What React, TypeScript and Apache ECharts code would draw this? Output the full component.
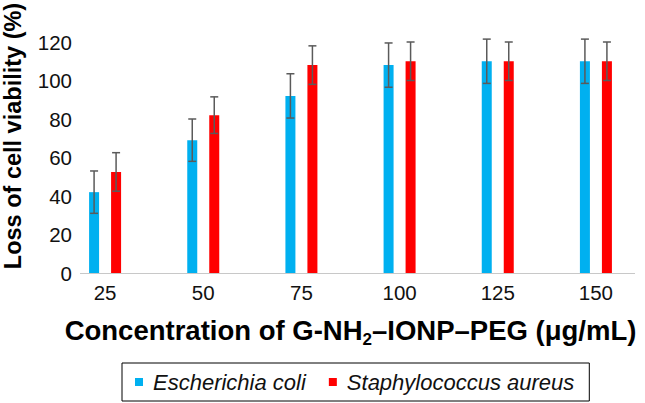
import React, { useEffect, useRef } from 'react';
import * as echarts from 'echarts';

const categories = ['25', '50', '75', '100', '125', '150'];
const ecoli = [42, 69, 92, 108, 110, 110];
const ecoliErr = [11, 11, 11.5, 11.5, 11.5, 11.5];
const saureus = [52.5, 82, 108, 110, 110, 110];
const saureusErr = [10, 9.5, 10, 10, 10, 10];
const seriesNames = ['Escherichia coli', 'Staphylococcus aureus'];
const yMin = 0;
const yMax = 120;
const yInterval = 20;

const FONT = 'Liberation Sans, Arial, Helvetica, sans-serif';

export default function App() {
  const ref = useRef<HTMLDivElement>(null);
  useEffect(() => {
    const chart = echarts.init(ref.current as HTMLDivElement, null, { renderer: 'svg' });
    const errSeries = (vals: number[], errs: number[], offset: number) => ({
      type: 'custom',
      renderItem: (_p: any, api: any) => {
        const top = api.coord([api.value(0), api.value(2)]);
        const bot = api.coord([api.value(0), api.value(1)]);
        const x = top[0] + offset;
        const hw = 4;
        const style = { stroke: '#5a5a5a', lineWidth: 1.5, fill: null };
        return {
          type: 'group',
          children: [
            { type: 'line', shape: { x1: x, y1: top[1], x2: x, y2: bot[1] }, style },
            { type: 'line', shape: { x1: x - hw, y1: top[1], x2: x + hw, y2: top[1] }, style },
            { type: 'line', shape: { x1: x - hw, y1: bot[1], x2: x + hw, y2: bot[1] }, style },
          ],
        };
      },
      data: vals.map((v, i) => [i, v - errs[i], v + errs[i]]),
      encode: { x: 0, y: [1, 2] },
      z: 10,
      silent: true,
    });
    chart.setOption({
      animation: false,
      grid: { left: 56, top: 42, width: 605, height: 231, containLabel: false },
      legend: {
        data: seriesNames,
        left: 122,
        top: 363,
        icon: 'rect',
        itemWidth: 8,
        itemHeight: 8,
        itemGap: 23,
        borderColor: '#000',
        borderWidth: 1,
        padding: [8, 15, 8, 13],
        textStyle: {
          fontFamily: FONT,
          fontSize: 22,
          fontStyle: 'italic',
          color: '#111',
          padding: [0, 0, 0, 5],
          lineHeight: 22,
        },
      },
      xAxis: {
        type: 'category',
        data: categories,
        axisLine: { show: false },
        axisTick: { show: false },
        axisLabel: { fontFamily: FONT, fontSize: 20.5, color: '#111', margin: 9 },
        name: '{a|Concentration of G-NH}{s|2}{a|–IONP–PEG (μg/mL)}',
        nameLocation: 'middle',
        nameGap: 40,
        nameTextStyle: {
          rich: {
            a: { fontFamily: FONT, fontSize: 27.5, fontWeight: 'bold', color: '#000' },
            s: { fontFamily: FONT, fontSize: 17, fontWeight: 'bold', color: '#000', padding: [18, 0, 0, 0] },
          },
        },
      },
      yAxis: {
        type: 'value',
        min: yMin,
        max: yMax,
        interval: yInterval,
        offset: -24,
        axisLine: { show: false },
        axisTick: { show: false },
        splitLine: { show: false },
        axisLabel: { fontFamily: FONT, fontSize: 20.5, color: '#111', margin: 8 },
      },
      graphic: [
        {
          type: 'line',
          shape: { x1: 80, y1: 273.5, x2: 635, y2: 273.5 },
          style: { stroke: '#c8c8c8', lineWidth: 1 },
          z: 5,
        },
        {
          type: 'text',
          x: 13,
          y: 136,
          rotation: Math.PI / 2,
          style: {
            text: 'Loss of cell viability (%)',
            font: `bold 23.5px ${FONT}`,
            fill: '#000',
            align: 'center',
            verticalAlign: 'middle',
          },
        },
      ],
      series: [
        {
          name: seriesNames[0],
          type: 'bar',
          data: ecoli,
          barWidth: 10,
          barGap: '120%',
          itemStyle: { color: '#00B0F0' },
        },
        {
          name: seriesNames[1],
          type: 'bar',
          data: saureus,
          barWidth: 10,
          barGap: '120%',
          itemStyle: { color: '#FF0000' },
        },
        errSeries(ecoli, ecoliErr, -11),
        errSeries(saureus, saureusErr, 11),
      ],
    });
    return () => chart.dispose();
  }, []);
  return (
    <div
      ref={ref}
      style={{ position: 'absolute', left: 0, top: 0, width: 645, height: 403 }}
    />
  );
}
